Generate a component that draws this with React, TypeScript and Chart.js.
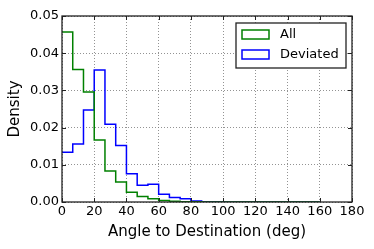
import React, { useEffect, useRef } from "react";
import { Chart, registerables } from "chart.js";

Chart.register(...registerables);

// Histogram bin edges (deg), 24 bins of 20/3 deg from 0 to 160
const binEdges = [
  0, 6.667, 13.333, 20, 26.667, 33.333, 40, 46.667, 53.333, 60, 66.667, 73.333,
  80, 86.667, 93.333, 100, 106.667, 113.333, 120, 126.667, 133.333, 140,
  146.667, 153.333, 160,
];

const allDensity = [
  0.0457, 0.0356, 0.0296, 0.0167, 0.0083, 0.0054, 0.0026, 0.0015, 0.0009,
  0.0004, 0.0002, 0.0001, 0.00005, 0, 0, 0, 0, 0, 0, 0, 0, 0, 0, 0,
];

const deviatedDensity = [
  0.0134, 0.0156, 0.0247, 0.0355, 0.0209, 0.0152, 0.0076, 0.0045, 0.0048,
  0.0021, 0.0012, 0.0009, 0.0003, 0.0001, 0.00005, 0, 0, 0, 0, 0, 0, 0, 0, 0,
];

const seriesLabels = ["All", "Deviated"];
const seriesColors = ["#008000", "#0000ff"];
const xTicks = [0, 20, 40, 60, 80, 100, 120, 140, 160, 180];
const yTicks = [0, 0.01, 0.02, 0.03, 0.04, 0.05];

const FONT = "'DejaVu Sans', sans-serif";

function stepPoints(values: number[]) {
  const pts: { x: number; y: number }[] = [];
  values.forEach((v, i) => pts.push({ x: binEdges[i], y: v }));
  pts.push({ x: binEdges[binEdges.length - 1], y: values[values.length - 1] });
  pts.push({ x: binEdges[binEdges.length - 1], y: 0 });
  return pts;
}

const framePlugin = {
  id: "frameAndLegend",
  afterDraw(chart: any) {
    const { ctx, chartArea, scales } = chart;
    const { left, right, top, bottom } = chartArea;
    ctx.save();
    // inward ticks
    ctx.strokeStyle = "#222";
    ctx.lineWidth = 1;
    ctx.beginPath();
    xTicks.forEach((t) => {
      const x = Math.round(scales.x.getPixelForValue(t)) + 0.5;
      ctx.moveTo(x, bottom);
      ctx.lineTo(x, bottom - 4);
      ctx.moveTo(x, top);
      ctx.lineTo(x, top + 4);
    });
    yTicks.forEach((t) => {
      const y = Math.round(scales.y.getPixelForValue(t)) + 0.5;
      ctx.moveTo(left, y);
      ctx.lineTo(left + 4, y);
      ctx.moveTo(right, y);
      ctx.lineTo(right - 4, y);
    });
    ctx.stroke();
    // frame
    ctx.strokeStyle = "#222";
    ctx.lineWidth = 1.3;
    ctx.strokeRect(left, top, right - left, bottom - top);

    // legend
    const lx1 = right - 116;
    const lx2 = right - 6;
    const ly1 = top + 7;
    const ly2 = top + 52;
    ctx.fillStyle = "#fff";
    ctx.fillRect(lx1, ly1, lx2 - lx1, ly2 - ly1);
    ctx.strokeStyle = "#222";
    ctx.lineWidth = 1.3;
    ctx.strokeRect(lx1, ly1, lx2 - lx1, ly2 - ly1);
    ctx.font = "13px " + FONT;
    ctx.textBaseline = "middle";
    ctx.textAlign = "left";
    seriesLabels.forEach((lab, i) => {
      const cy = ly1 + 11.5 + i * 20;
      ctx.strokeStyle = seriesColors[i];
      ctx.lineWidth = 1.5;
      ctx.strokeRect(lx1 + 6, cy - 4.5, 27, 9);
      ctx.fillStyle = "#000";
      ctx.fillText(lab, lx1 + 44, cy);
    });
    ctx.restore();
  },
};

export default function App() {
  const ref = useRef<HTMLCanvasElement | null>(null);
  useEffect(() => {
    document.body.style.margin = "0";
    document.body.style.overflow = "hidden";
    const canvas = ref.current!;
    const chart = new Chart(canvas, {
      type: "line",
      data: {
        datasets: [
          {
            label: seriesLabels[0],
            data: stepPoints(allDensity),
            borderColor: seriesColors[0],
            borderWidth: 1.5,
            stepped: "before",
            pointRadius: 0,
            fill: false,
          },
          {
            label: seriesLabels[1],
            data: stepPoints(deviatedDensity),
            borderColor: seriesColors[1],
            borderWidth: 1.5,
            stepped: "before",
            pointRadius: 0,
            fill: false,
          },
        ],
      },
      options: {
        responsive: false,
        animation: false,
        events: [],
        layout: { padding: { left: 0, right: 22, top: 16, bottom: 0 } },
        plugins: {
          legend: { display: false },
          tooltip: { enabled: false },
        },
        scales: {
          x: {
            type: "linear",
            min: 0,
            max: 180,
            afterBuildTicks: (s: any) => {
              s.ticks = xTicks.map((v) => ({ value: v }));
            },
            afterFit: (s: any) => {
              s.height = 47;
            },
            ticks: {
              color: "#000",
              font: { family: FONT, size: 13 },
              padding: 2,
              maxRotation: 0,
              callback: (v: any) => String(v),
            },
            grid: {
              drawTicks: false,
              color: "#777",
              lineWidth: 0.8,
            },
            border: { display: false, dash: [1, 2] },
            title: {
              display: true,
              text: "Angle to Destination (deg)",
              color: "#000",
              font: { family: FONT, size: 15 },
              padding: { top: 0, bottom: 8 },
            },
          },
          y: {
            type: "linear",
            min: 0,
            max: 0.05,
            afterBuildTicks: (s: any) => {
              s.ticks = yTicks.map((v) => ({ value: v }));
            },
            afterFit: (s: any) => {
              s.width = 62;
            },
            ticks: {
              color: "#000",
              font: { family: FONT, size: 13 },
              padding: 3,
              callback: (v: any) => Number(v).toFixed(2),
            },
            grid: {
              drawTicks: false,
              color: "#777",
              lineWidth: 0.8,
            },
            border: { display: false, dash: [1, 2] },
            title: {
              display: true,
              text: "Density",
              color: "#000",
              font: { family: FONT, size: 15 },
              padding: { top: 6, bottom: 0 },
            },
          },
        },
      },
      plugins: [framePlugin],
    } as any);
    return () => chart.destroy();
  }, []);
  return <canvas ref={ref} width={374} height={249} style={{ display: "block" }} />;
}
